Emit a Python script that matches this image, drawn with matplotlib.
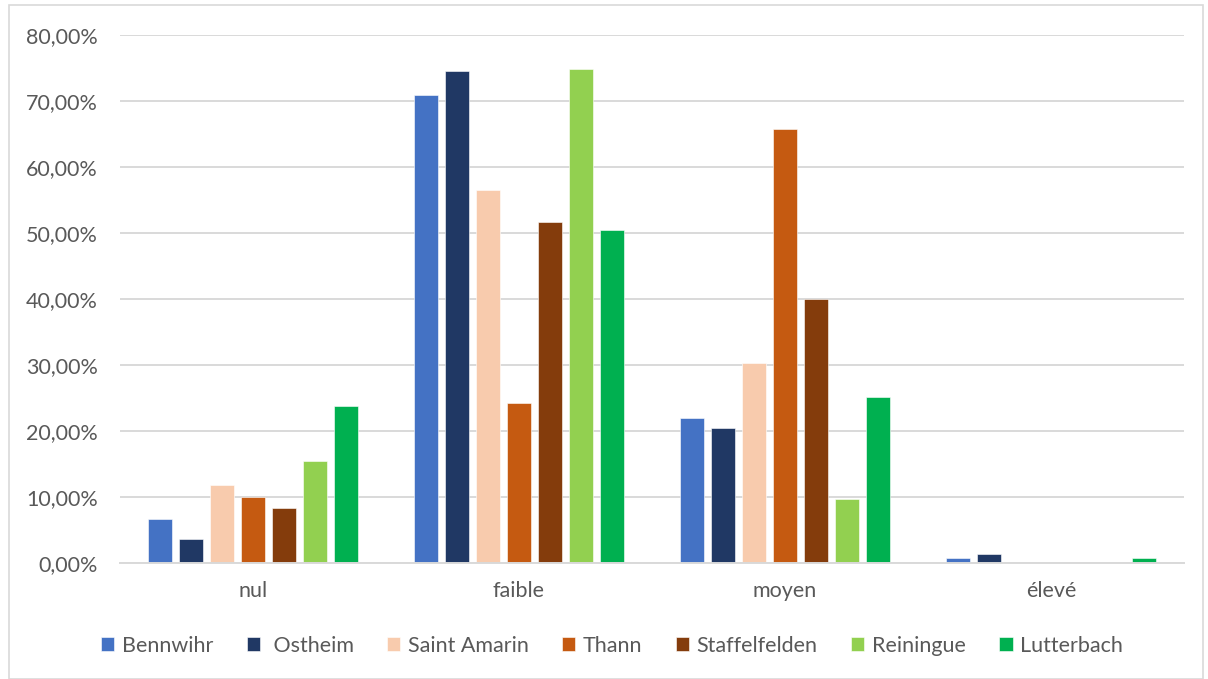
import matplotlib
matplotlib.use("Agg")
import matplotlib.pyplot as plt
from matplotlib.patches import Rectangle
from matplotlib.ticker import FuncFormatter
import numpy as np

categories = ["nul", "faible", "moyen", "élevé"]
series_names = ["Bennwihr", " Ostheim", "Saint Amarin", "Thann", "Staffelfelden", "Reiningue", "Lutterbach"]

bennwihr = [6.6, 70.9, 21.9, 0.7]
ostheim = [3.6, 74.6, 20.5, 1.3]
saint_amarin = [11.8, 56.5, 30.25, 0.0]
thann = [10.0, 24.3, 65.7, 0.0]
staffelfelden = [8.3, 51.6, 40.05, 0.0]
reiningue = [15.5, 74.8, 9.7, 0.0]
lutterbach = [23.8, 50.45, 25.15, 0.7]

series_values = [bennwihr, ostheim, saint_amarin, thann, staffelfelden, reiningue, lutterbach]
colors = ["#4472C4", "#203864", "#F8CBAD", "#C55A11", "#843C0C", "#92D050", "#00B050"]

y_ticks = [0, 10, 20, 30, 40, 50, 60, 70, 80]

text_color = "#595959"
grid_color = "#D9D9D9"
plt.rcParams["font.family"] = ["Lato", "DejaVu Sans"]

W, H = 1208, 679
fig = plt.figure(figsize=(W / 100, H / 100), dpi=100)
ax = fig.add_axes([120 / W, (H - 563) / H, (1184 - 120) / W, (563 - 35) / H])

x = np.arange(len(categories))
slot = 31 / 266
width = 24.3 / 266
n = len(series_names)
for i, (name, vals, col) in enumerate(zip(series_names, series_values, colors)):
    offs = (i - (n - 1) / 2) * slot
    ax.bar(x + offs, vals, width=width, color=col, label=name, zorder=3,
           edgecolor="white", linewidth=0.4)

ax.set_xlim(-0.5, len(categories) - 0.5)
ax.set_ylim(0, 80)
ax.set_yticks(y_ticks)
ax.yaxis.set_major_formatter(FuncFormatter(lambda v, p: f"{v:.2f}".replace(".", ",") + "%"))
ax.set_xticks(x)
ax.set_xticklabels(categories)
ax.tick_params(axis="both", length=0, labelsize=15.5, colors=text_color)
ax.tick_params(axis="y", pad=16)
ax.tick_params(axis="x", pad=13)
ax.grid(axis="y", color=grid_color, linewidth=1.4, zorder=0)
for side in ["top", "right", "left"]:
    ax.spines[side].set_visible(False)
ax.spines["bottom"].set_color(grid_color)
ax.spines["bottom"].set_linewidth(1.4)
ax.spines["bottom"].set_zorder(4)

leg = fig.legend(loc="center", bbox_to_anchor=(612 / W, 1 - 646 / H), ncol=n,
                 frameon=False, fontsize=15.5, handlelength=0.62, handleheight=0.62,
                 handletextpad=0.35, columnspacing=1.55, labelcolor=text_color)

fig.patches.append(Rectangle((9 / W, 0), (1203 - 9) / W, (674) / H,
                             transform=fig.transFigure, fill=False,
                             edgecolor=grid_color, linewidth=1.2))

fig.savefig("out.png", dpi=100, facecolor="white")
